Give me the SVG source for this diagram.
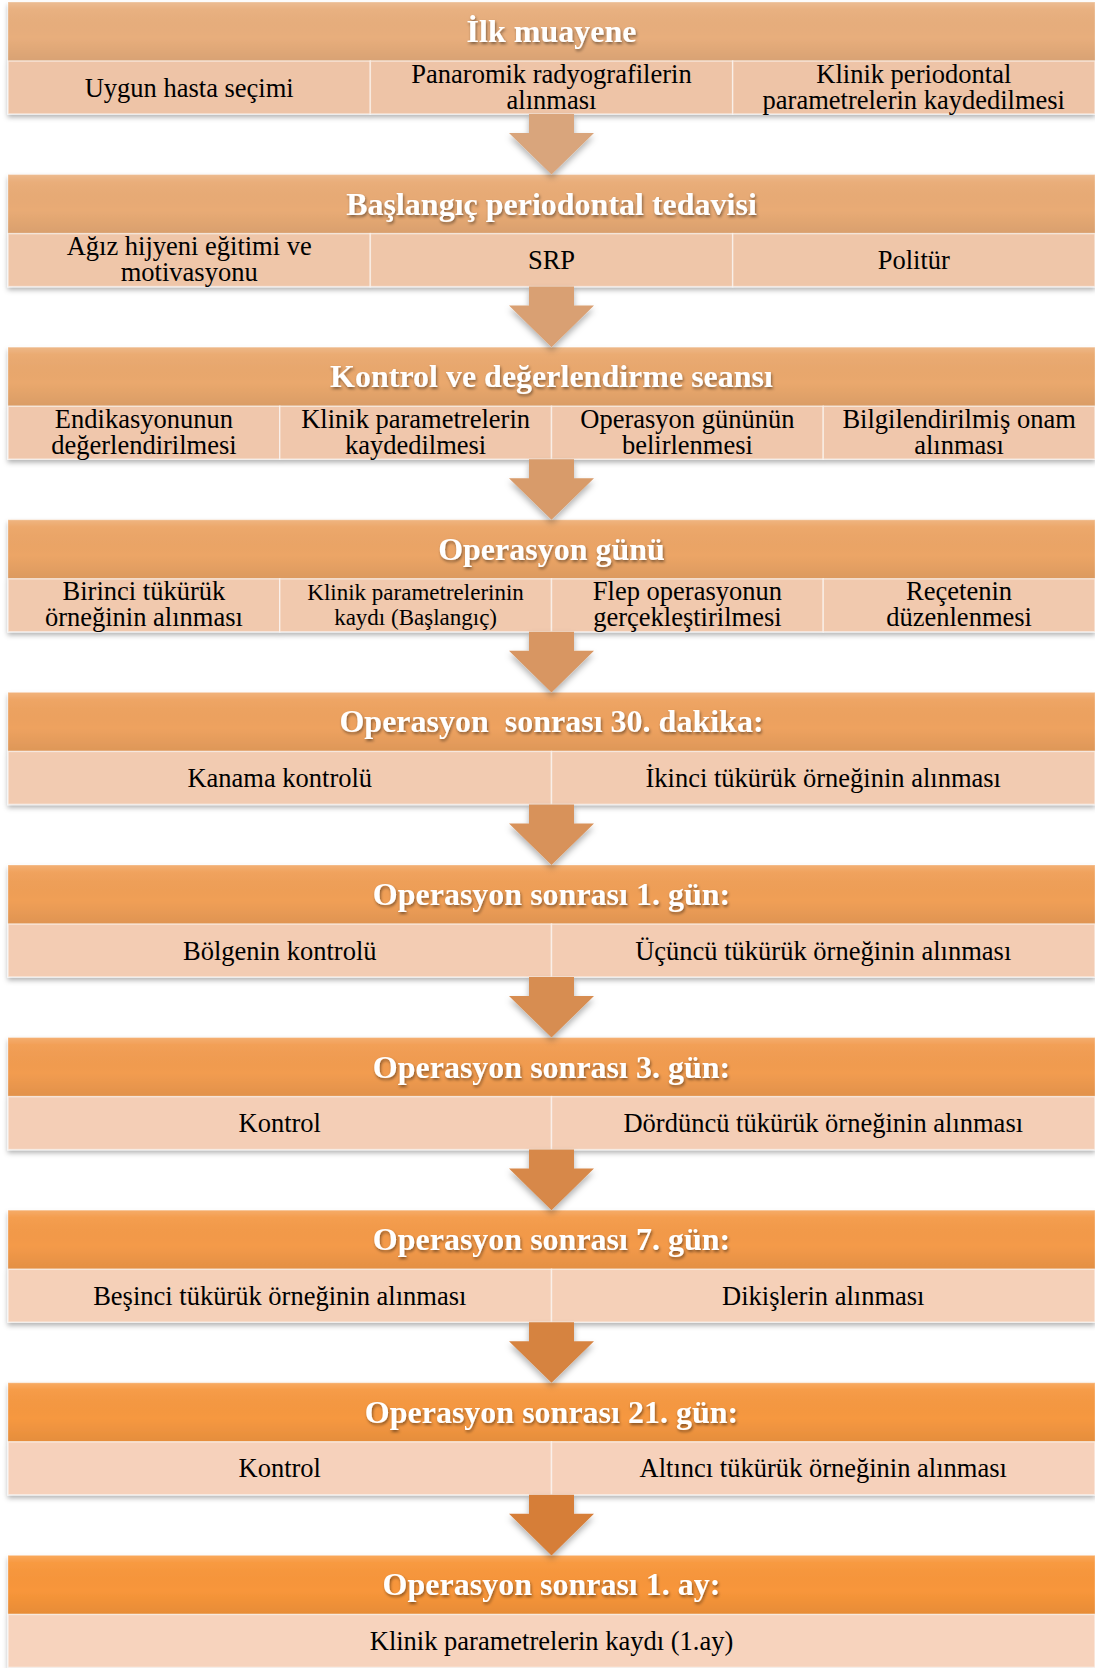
<svg xmlns="http://www.w3.org/2000/svg" width="1095" height="1668" viewBox="0 0 1095 1668">
<style>
.h{font-family:"Liberation Serif","Times New Roman",serif;font-weight:bold;font-size:32px;fill:#fff;text-anchor:middle;white-space:pre}
.t{font-family:"Liberation Serif","Times New Roman",serif;font-size:26.5px;fill:#000;text-anchor:middle}
.s{font-size:23px}
.cell{stroke:#fff;stroke-opacity:0.55;stroke-width:1.5}
.hd{stroke:#fff;stroke-opacity:0.3;stroke-width:1}
</style>
<defs>
<linearGradient id="gloss" x1="0" y1="0" x2="0" y2="1">
<stop offset="0" stop-color="#fff" stop-opacity="0.18"/>
<stop offset="0.12" stop-color="#fff" stop-opacity="0.04"/>
<stop offset="0.6" stop-color="#000" stop-opacity="0"/>
<stop offset="1" stop-color="#000" stop-opacity="0.07"/>
</linearGradient>
<filter id="sh" x="-5%" y="-20%" width="110%" height="150%">
<feDropShadow dx="0" dy="3" stdDeviation="2.5" flood-color="#000" flood-opacity="0.3"/>
</filter>
<filter id="ash" x="-30%" y="-30%" width="160%" height="160%">
<feDropShadow dx="0" dy="4" stdDeviation="3" flood-color="#000" flood-opacity="0.3"/>
</filter>
<filter id="tsh" x="-10%" y="-30%" width="120%" height="160%">
<feDropShadow dx="1" dy="2" stdDeviation="1.5" flood-color="#000" flood-opacity="0.45"/>
</filter>
</defs>

<g id="node-1" transform="translate(0,2)">
<g filter="url(#sh)">
<rect class="hd" x="8" y="0" width="1087" height="59" fill="#E8AE7C"/>
<rect x="8" y="0" width="1087" height="59" fill="url(#gloss)"/>
<rect class="cell" x="8" y="59" width="362.33" height="53" fill="#EEC4A7"/>
<rect class="cell" x="370.33" y="59" width="362.33" height="53" fill="#EEC4A7"/>
<rect class="cell" x="732.67" y="59" width="362.33" height="53" fill="#EEC4A7"/>
</g>
<text class="h" x="551.5" y="40" filter="url(#tsh)">İlk muayene</text>
<text class="t" x="189.2" y="94.5">Uygun hasta seçimi</text>
<text class="t" x="551.5" y="80.5">Panaromik radyografilerin</text>
<text class="t" x="551.5" y="106.5">alınması</text>
<text class="t" x="913.8" y="80.5">Klinik periodontal</text>
<text class="t" x="913.8" y="106.5">parametrelerin kaydedilmesi</text>
</g>

<g id="node-2" transform="translate(0,174.6)">
<g filter="url(#sh)">
<rect class="hd" x="8" y="0" width="1087" height="59" fill="#E9AB75"/>
<rect x="8" y="0" width="1087" height="59" fill="url(#gloss)"/>
<rect class="cell" x="8" y="59" width="362.33" height="53" fill="#EFC6A9"/>
<rect class="cell" x="370.33" y="59" width="362.33" height="53" fill="#EFC6A9"/>
<rect class="cell" x="732.67" y="59" width="362.33" height="53" fill="#EFC6A9"/>
</g>
<text class="h" x="551.5" y="40" filter="url(#tsh)">Başlangıç periodontal tedavisi</text>
<text class="t" x="189.2" y="80.5">Ağız hijyeni eğitimi ve</text>
<text class="t" x="189.2" y="106.5">motivasyonu</text>
<text class="t" x="551.5" y="94.5">SRP</text>
<text class="t" x="913.8" y="94.5">Politür</text>
</g>

<g id="node-3" transform="translate(0,347.2)">
<g filter="url(#sh)">
<rect class="hd" x="8" y="0" width="1087" height="59" fill="#EAA86D"/>
<rect x="8" y="0" width="1087" height="59" fill="url(#gloss)"/>
<rect class="cell" x="8" y="59" width="271.75" height="53" fill="#F0C7AC"/>
<rect class="cell" x="279.75" y="59" width="271.75" height="53" fill="#F0C7AC"/>
<rect class="cell" x="551.5" y="59" width="271.75" height="53" fill="#F0C7AC"/>
<rect class="cell" x="823.25" y="59" width="271.75" height="53" fill="#F0C7AC"/>
</g>
<text class="h" x="551.5" y="40" filter="url(#tsh)">Kontrol ve değerlendirme seansı</text>
<text class="t" x="143.9" y="80.5">Endikasyonunun</text>
<text class="t" x="143.9" y="106.5">değerlendirilmesi</text>
<text class="t" x="415.6" y="80.5">Klinik parametrelerin</text>
<text class="t" x="415.6" y="106.5">kaydedilmesi</text>
<text class="t" x="687.4" y="80.5">Operasyon gününün</text>
<text class="t" x="687.4" y="106.5">belirlenmesi</text>
<text class="t" x="959.1" y="80.5">Bilgilendirilmiş onam</text>
<text class="t" x="959.1" y="106.5">alınması</text>
</g>

<g id="node-4" transform="translate(0,519.8)">
<g filter="url(#sh)">
<rect class="hd" x="8" y="0" width="1087" height="59" fill="#ECA566"/>
<rect x="8" y="0" width="1087" height="59" fill="url(#gloss)"/>
<rect class="cell" x="8" y="59" width="271.75" height="53" fill="#F1C9AE"/>
<rect class="cell" x="279.75" y="59" width="271.75" height="53" fill="#F1C9AE"/>
<rect class="cell" x="551.5" y="59" width="271.75" height="53" fill="#F1C9AE"/>
<rect class="cell" x="823.25" y="59" width="271.75" height="53" fill="#F1C9AE"/>
</g>
<text class="h" x="551.5" y="40" filter="url(#tsh)">Operasyon günü</text>
<text class="t" x="143.9" y="80.5">Birinci tükürük</text>
<text class="t" x="143.9" y="106.5">örneğinin alınması</text>
<text class="t s" x="415.6" y="80">Klinik parametrelerinin</text>
<text class="t s" x="415.6" y="105">kaydı (Başlangıç)</text>
<text class="t" x="687.4" y="80.5">Flep operasyonun</text>
<text class="t" x="687.4" y="106.5">gerçekleştirilmesi</text>
<text class="t" x="959.1" y="80.5">Reçetenin</text>
<text class="t" x="959.1" y="106.5">düzenlenmesi</text>
</g>

<g id="node-5" transform="translate(0,692.4)">
<g filter="url(#sh)">
<rect class="hd" x="8" y="0" width="1087" height="59" fill="#EEA25F"/>
<rect x="8" y="0" width="1087" height="59" fill="url(#gloss)"/>
<rect class="cell" x="8" y="59" width="543.5" height="53" fill="#F2CBB1"/>
<rect class="cell" x="551.5" y="59" width="543.5" height="53" fill="#F2CBB1"/>
</g>
<text class="h" x="551.5" y="40" filter="url(#tsh)">Operasyon  sonrası 30. dakika:</text>
<text class="t" x="279.75" y="94.5">Kanama kontrolü</text>
<text class="t" x="823.25" y="94.5">İkinci tükürük örneğinin alınması</text>
</g>

<g id="node-6" transform="translate(0,865)">
<g filter="url(#sh)">
<rect class="hd" x="8" y="0" width="1087" height="59" fill="#F09F57"/>
<rect x="8" y="0" width="1087" height="59" fill="url(#gloss)"/>
<rect class="cell" x="8" y="59" width="543.5" height="53" fill="#F3CCB3"/>
<rect class="cell" x="551.5" y="59" width="543.5" height="53" fill="#F3CCB3"/>
</g>
<text class="h" x="551.5" y="40" filter="url(#tsh)">Operasyon sonrası 1. gün:</text>
<text class="t" x="279.75" y="94.5">Bölgenin kontrolü</text>
<text class="t" x="823.25" y="94.5">Üçüncü tükürük örneğinin alınması</text>
</g>

<g id="node-7" transform="translate(0,1037.6)">
<g filter="url(#sh)">
<rect class="hd" x="8" y="0" width="1087" height="59" fill="#F29C50"/>
<rect x="8" y="0" width="1087" height="59" fill="url(#gloss)"/>
<rect class="cell" x="8" y="59" width="543.5" height="53" fill="#F4CEB6"/>
<rect class="cell" x="551.5" y="59" width="543.5" height="53" fill="#F4CEB6"/>
</g>
<text class="h" x="551.5" y="40" filter="url(#tsh)">Operasyon sonrası 3. gün:</text>
<text class="t" x="279.75" y="94.5">Kontrol</text>
<text class="t" x="823.25" y="94.5">Dördüncü tükürük örneğinin alınması</text>
</g>

<g id="node-8" transform="translate(0,1210.2)">
<g filter="url(#sh)">
<rect class="hd" x="8" y="0" width="1087" height="59" fill="#F49A49"/>
<rect x="8" y="0" width="1087" height="59" fill="url(#gloss)"/>
<rect class="cell" x="8" y="59" width="543.5" height="53" fill="#F5D0B8"/>
<rect class="cell" x="551.5" y="59" width="543.5" height="53" fill="#F5D0B8"/>
</g>
<text class="h" x="551.5" y="40" filter="url(#tsh)">Operasyon sonrası 7. gün:</text>
<text class="t" x="279.75" y="94.5">Beşinci tükürük örneğinin alınması</text>
<text class="t" x="823.25" y="94.5">Dikişlerin alınması</text>
</g>

<g id="node-9" transform="translate(0,1382.8)">
<g filter="url(#sh)">
<rect class="hd" x="8" y="0" width="1087" height="59" fill="#F69841"/>
<rect x="8" y="0" width="1087" height="59" fill="url(#gloss)"/>
<rect class="cell" x="8" y="59" width="543.5" height="53" fill="#F6D1BB"/>
<rect class="cell" x="551.5" y="59" width="543.5" height="53" fill="#F6D1BB"/>
</g>
<text class="h" x="551.5" y="40" filter="url(#tsh)">Operasyon sonrası 21. gün:</text>
<text class="t" x="279.75" y="94.5">Kontrol</text>
<text class="t" x="823.25" y="94.5">Altıncı tükürük örneğinin alınması</text>
</g>

<g id="node-10" transform="translate(0,1555.4)">
<g filter="url(#sh)">
<rect class="hd" x="8" y="0" width="1087" height="59" fill="#F8963A"/>
<rect x="8" y="0" width="1087" height="59" fill="url(#gloss)"/>
<rect class="cell" x="8" y="59" width="1087" height="53" fill="#F7D3BD"/>
</g>
<text class="h" x="551.5" y="40" filter="url(#tsh)">Operasyon sonrası 1. ay:</text>
<text class="t" x="551.5" y="94.5">Klinik parametrelerin kaydı (1.ay)</text>
</g>

<g id="connectors" filter="url(#ash)">
<polygon points="529,114 574,114 574,133 594,133 551.5,174.6 509,133 529,133" fill="#D9A57B"/>
<polygon points="529,286.6 574,286.6 574,305.6 594,305.6 551.5,347.2 509,305.6 529,305.6" fill="#D9A073"/>
<polygon points="529,459.2 574,459.2 574,478.2 594,478.2 551.5,519.8 509,478.2 529,478.2" fill="#D89B6A"/>
<polygon points="529,631.8 574,631.8 574,650.8 594,650.8 551.5,692.4 509,650.8 529,650.8" fill="#D89662"/>
<polygon points="529,804.4 574,804.4 574,823.4 594,823.4 551.5,865 509,823.4 529,823.4" fill="#D8925A"/>
<polygon points="529,977 574,977 574,996 594,996 551.5,1037.6 509,996 529,996" fill="#D78D51"/>
<polygon points="529,1149.6 574,1149.6 574,1168.6 594,1168.6 551.5,1210.2 509,1168.6 529,1168.6" fill="#D78849"/>
<polygon points="529,1322.2 574,1322.2 574,1341.2 594,1341.2 551.5,1382.8 509,1341.2 529,1341.2" fill="#D68340"/>
<polygon points="529,1494.8 574,1494.8 574,1513.8 594,1513.8 551.5,1555.4 509,1513.8 529,1513.8" fill="#D67E38"/>
</g>
</svg>
